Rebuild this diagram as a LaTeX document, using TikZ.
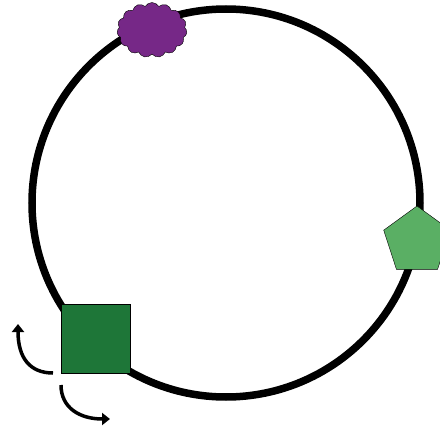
\documentclass[tikz,border=0pt]{standalone}
\usetikzlibrary{shapes.geometric,shapes.symbols,arrows.meta}
\definecolor{grape}{HTML}{762887}
\definecolor{leaf}{HTML}{5AAF64}
\definecolor{forest}{HTML}{1E7638}

\begin{document}
\begin{tikzpicture}[
    x=1pt, y=-1pt,
    ring/.style={draw=black, line width=7.5pt},
    blob/.style={
      cloud, cloud puffs=15, cloud puff arc=120, aspect=1.3,
      draw=black, thin, fill=grape,
      minimum width=70pt, minimum height=55pt, inner sep=0pt
    },
    penta/.style={
      regular polygon, regular polygon sides=5,
      draw=black, thin, fill=leaf,
      minimum size=70pt, inner sep=0pt
    },
    block/.style={
      rectangle, draw=black, thin, fill=forest,
      minimum size=69pt, inner sep=0pt
    },
    curlarrow/.style={
      draw=black, line width=3.5pt,
      -{Triangle[length=8pt 0,width=12pt 0]}
    },
  ]

  \useasboundingbox (0,0) rectangle (440,431);

  % Ring
  \draw[ring] (226,203) circle[radius=194pt];

  % Nodes
  \node[blob]  (cloudA)  at (152,30)    {};
  \node[penta] (pent)    at (417,241)   {};
  \node[block] (box)     at (95.5,338.5) {};

  % Curled arrows
  \coordinate (upS)   at (53,373);
  \coordinate (upE)   at (18,324);
  \coordinate (dnS)   at (61,385);
  \coordinate (dnE)   at (110,419);

  \draw[curlarrow] (upS) .. controls (30,373) and (18,358) .. (upE);
  \draw[curlarrow] (dnS) .. controls (61,408) and (80,419) .. (dnE);

\end{tikzpicture}
\end{document}
